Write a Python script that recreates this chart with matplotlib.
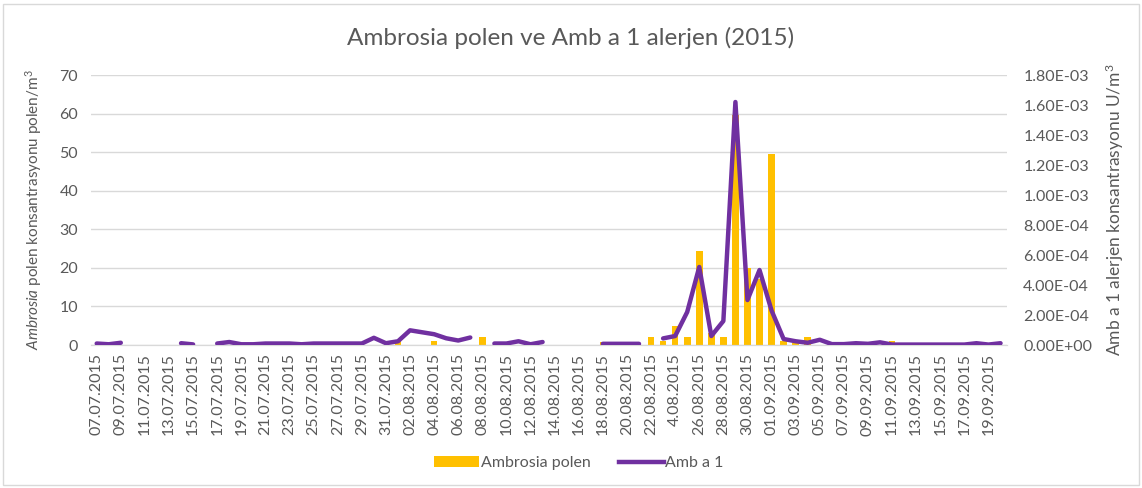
import numpy as np
import matplotlib
matplotlib.use("Agg")
import matplotlib.pyplot as plt
from matplotlib.patches import Rectangle, Patch
from matplotlib.lines import Line2D
from matplotlib.ticker import FuncFormatter, MultipleLocator

plt.rcParams["font.family"] = ["Lato", "DejaVu Sans"]
plt.rcParams["mathtext.fontset"] = "custom"
plt.rcParams["mathtext.rm"] = "Lato"
plt.rcParams["mathtext.it"] = "Lato:italic"

GOLD = "#FFC000"
PURPLE = "#7030A0"
GREY_TXT = "#595959"
GRID = "#D9D9D9"

nan = np.nan

# daily values, 07.07.2015 - 20.09.2015 (76 days)
pollen = [
    0, 0, 0, 0, 0, 0, 0, 0, 0, 0,          # 07.07 - 16.07
    0, 0, 0, 0, 0, 0, 0, 0, 0, 0,          # 17.07 - 26.07
    0, 0, 0, 0, 0, 1, 0, 0, 1, 0,          # 27.07 - 05.08
    0, 0, 2, 0, 0, 0, 0, 0, 0, 0,          # 06.08 - 15.08
    0, 0, 0.7, 0, 0, 0, 2, 1, 5, 2,        # 16.08 - 25.08
    24.5, 3, 2, 59.6, 20, 17, 49.5, 1, 0.5, 2,  # 26.08 - 04.09
    0, 0, 0, 0, 0, 0, 1, 0, 0, 0,          # 05.09 - 14.09
    0, 0, 0, 0, 0, 0,                      # 15.09 - 20.09
]

amb_a1 = [
    1.0e-5, 5e-6, 1.5e-5, nan, nan, nan, nan, 1.2e-5, 4e-6, nan,
    1.0e-5, 2.0e-5, 5e-6, 5e-6, 1.0e-5, 1.0e-5, 1.0e-5, 5e-6, 1.0e-5, 1.0e-5,
    1.0e-5, 1.0e-5, 1.0e-5, 4.8e-5, 1.2e-5, 2.5e-5, 9.8e-5, 8.5e-5, 7.2e-5, 4.5e-5,
    3.0e-5, 5.0e-5, nan, 1.0e-5, 1.0e-5, 2.5e-5, 5e-6, 2.0e-5, nan, nan,
    nan, nan, 8e-6, 8e-6, 8e-6, 8e-6, nan, 4.4e-5, 6.0e-5, 2.2e-4,
    5.2e-4, 6.0e-5, 1.6e-4, 1.62e-3, 3.0e-4, 5.0e-4, 2.3e-4, 4.0e-5, 2.5e-5, 1.5e-5,
    3.5e-5, 6e-6, 6e-6, 1.2e-5, 8e-6, 1.8e-5, 3e-6, 3e-6, 3e-6, 3e-6,
    3e-6, 3e-6, 3e-6, 1.2e-5, 3e-6, 1.2e-5,
]

tick_labels = [
    "07.07.2015", "09.07.2015", "11.07.2015", "13.07.2015", "15.07.2015",
    "17.07.2015", "19.07.2015", "21.07.2015", "23.07.2015", "25.07.2015",
    "27.07.2015", "29.07.2015", "31.07.2015", "02.08.2015", "04.08.2015",
    "06.08.2015", "08.08.2015", "10.08.2015", "12.08.2015", "14.08.2015",
    "16.08.2015", "18.08.2015", "20.08.2015", "22.08.2015", "4.08.2015",
    "26.08.2015", "28.08.2015", "30.08.2015", "01.09.2015", "03.09.2015",
    "05.09.2015", "07.09.2015", "09.09.2015", "11.09.2015", "13.09.2015",
    "15.09.2015", "17.09.2015", "19.09.2015",
]

x = np.arange(len(pollen))

fig = plt.figure(figsize=(11.42, 4.88), dpi=100)
ax = fig.add_axes([0.0794, 0.293, 0.8020, 0.5533])
ax2 = ax.twinx()

ax.bar(x, pollen, width=0.55, color=GOLD, zorder=2)
ax2.plot(x, amb_a1, color=PURPLE, linewidth=3.2,
         solid_capstyle="round", solid_joinstyle="round", zorder=3)

ax.set_xlim(-0.5, len(pollen) - 0.5)
ax.set_ylim(0, 70)
ax.yaxis.set_major_locator(MultipleLocator(10))
ax2.set_ylim(0, 1.8e-3)
ax2.yaxis.set_major_locator(MultipleLocator(2e-4))
ax2.yaxis.set_major_formatter(FuncFormatter(lambda v, p: f"{v:.2E}"))

ax.set_xticks(x[::2])
ax.set_xticklabels(tick_labels, rotation=90)

ax.grid(axis="y", color=GRID, linewidth=1.0, zorder=0)
ax.set_axisbelow(True)
for a in (ax, ax2):
    for s in ("top", "left", "right"):
        a.spines[s].set_visible(False)
    a.spines["bottom"].set_color(GRID)
    a.tick_params(length=0, colors=GREY_TXT, labelsize=11.5)
ax.tick_params(axis="x", pad=6)
ax.tick_params(axis="y", pad=9)
ax2.tick_params(axis="y", pad=12)

ax.set_ylabel(r"$\it{Ambrosia}$ polen konsantrasyonu polen/m$^3$",
              color=GREY_TXT, fontsize=11, labelpad=11)
ax2.set_ylabel(r"Amb a 1 alerjen konsantrasyonu U/m$^3$",
               color=GREY_TXT, fontsize=12.5, labelpad=8)

fig.suptitle("Ambrosia polen ve Amb a 1 alerjen (2015)", x=0.5, y=0.945,
             fontsize=17.5, color=GREY_TXT)

handles = [Patch(facecolor=GOLD, edgecolor="none"),
           Line2D([0], [0], color=PURPLE, linewidth=3.2)]
fig.legend(handles, ["Ambrosia polen", "Amb a 1"], loc="center",
           bbox_to_anchor=(0.507, 0.051), ncol=2, frameon=False,
           fontsize=11.5, labelcolor=GREY_TXT, handlelength=2.8,
           handletextpad=0.1, columnspacing=1.8)

# thin frame around the whole chart area
fig.patches.append(Rectangle((0.003, 0.006), 0.994, 0.986, transform=fig.transFigure,
                             fill=False, edgecolor=GRID, linewidth=1.0))

fig.savefig("out.png", dpi=100)
